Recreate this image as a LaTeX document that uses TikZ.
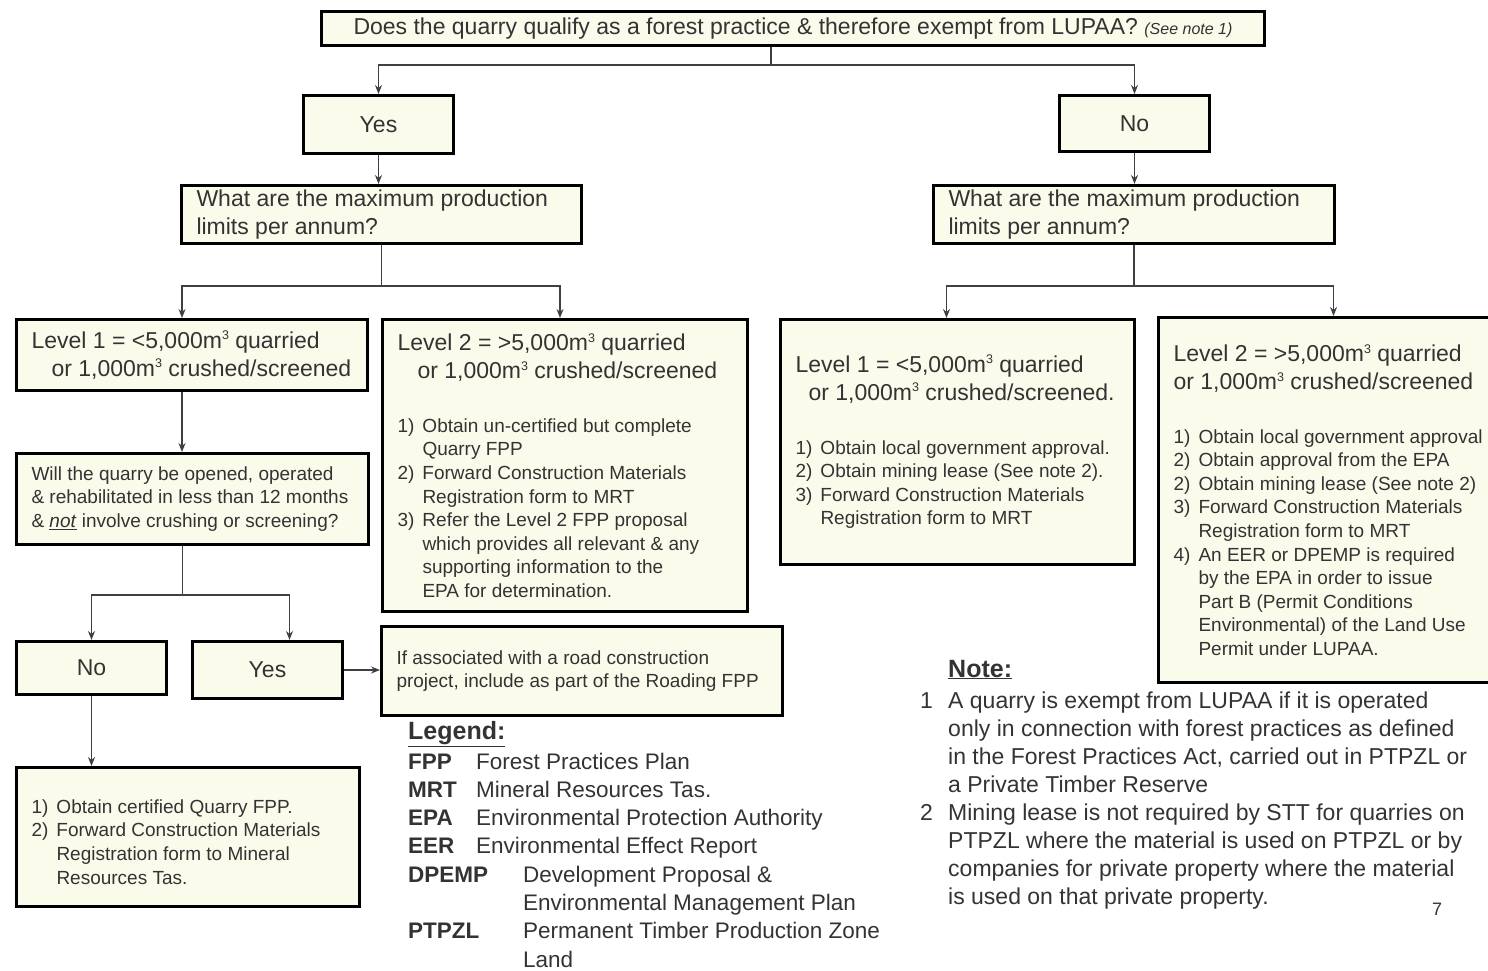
\documentclass[tikz,border=0pt]{standalone}
\usepackage{fontspec}
\setmainfont{Liberation Sans}
\usepackage{xcolor}
\usetikzlibrary{arrows.meta}
\definecolor{boxfill}{HTML}{FBFBEC}
\colorlet{ink}{black!80}
\newcommand\cube{\raisebox{8.5pt}{\fontsize{12.5}{12.5}\selectfont 3}}
\newcommand\qtxt{\fontsize{23}{28}\selectfont}
\newcommand\lvltxt{\fontsize{23}{28}\selectfont}
\newcommand\lsttxt{\fontsize{19}{23.6}\selectfont}
\newcommand\stepi[2]{\par\noindent\hangindent=25pt\hangafter=1\makebox[25pt][l]{#1}#2}
\newcommand\abbr[2]{\makebox[#1][l]{\textbf{#2}}}
\tikzstyle{box}=[draw=black,line width=3pt,fill=boxfill,text=ink,anchor=north west,inner ysep=0pt,inner xsep=15pt]
\tikzstyle{txt}=[text=ink,inner sep=0pt,anchor=base west]
\tikzstyle{ln}=[line width=1.3pt,draw=black!75]
\tikzstyle{arr}=[ln,-{Stealth[length=9pt,width=7pt]}]

\begin{document}
\begin{tikzpicture}[x=1pt,y=-1pt]
\useasboundingbox (0,0) rectangle (1488,970);
% first question and its answers
\node[box,minimum width=943pt,minimum height=34pt,font=\qtxt] (q) at (320,10)
  {Does the quarry qualify as a forest practice \& therefore exempt from LUPAA? {\fontsize{16}{16}\selectfont\itshape (See note 1)}};
\node[box,minimum width=150pt,minimum height=58pt,font=\qtxt] (yes) at (302,94) {Yes};
\node[box,minimum width=150pt,minimum height=56pt,font=\qtxt] (no) at (1058,94) {No};
\node[box,minimum height=58pt,text width=370pt,align=flush left,font=\qtxt] (ql) at (180,184)
  {What are the maximum production\\limits per annum?};
\node[box,minimum height=58pt,text width=371pt,align=flush left,font=\qtxt] (qr) at (932,184)
  {What are the maximum production\\limits per annum?};
% production levels
\node[box,minimum height=71pt,text width=321pt,align=flush left,font=\lvltxt] (l1a) at (15,318)
  {Level 1 = <5,000m\cube{} quarried\\\hspace*{20pt}or 1,000m\cube{} crushed/screened};
\node[box,minimum height=292pt,text width=335pt,align=flush left] (l2a) at (381,318)
  {{\lvltxt Level 2 = >5,000m\cube{} quarried\\\hspace*{20pt}or 1,000m\cube{} crushed/screened\par}
   \vspace{30pt}
   {\lsttxt\stepi{1)}{Obtain un-certified but complete\newline Quarry FPP}%
    \stepi{2)}{Forward Construction Materials\newline Registration form to MRT}%
    \stepi{3)}{Refer the Level 2 FPP proposal\newline which provides all relevant \& any\newline supporting information to the\newline EPA for determination.}\par}};
\node[box,minimum height=245pt,text width=324pt,align=flush left,inner xsep=15pt] (l1b) at (779,318)
  {{\lvltxt Level 1 = <5,000m\cube{} quarried\\\hspace*{13pt}or 1,000m\cube{} crushed/screened.\par}
   \vspace{30pt}
   {\lsttxt\stepi{1)}{Obtain local government approval.}%
    \stepi{2)}{Obtain mining lease (See note 2).}%
    \stepi{3)}{Forward Construction Materials\newline Registration form to MRT}\par}};
\node[box,minimum height=365pt,text width=320pt,align=flush left] (l2b) at (1157,316)
  {{\lvltxt Level 2 = >5,000m\cube{} quarried\\or 1,000m\cube{} crushed/screened\par}
   \vspace{30pt}
   {\lsttxt\stepi{1)}{Obtain local government approval}%
    \stepi{2)}{Obtain approval from the EPA}%
    \stepi{2)}{Obtain mining lease (See note 2)}%
    \stepi{3)}{Forward Construction Materials\newline Registration form to MRT}%
    \stepi{4)}{An EER or DPEMP is required\newline by the EPA in order to issue\newline Part B (Permit Conditions\newline Environmental) of the Land Use\newline Permit under LUPAA.}\par}};
% short term quarry
\node[box,minimum height=91pt,text width=322pt,align=flush left,font=\lsttxt] (will) at (15,452)
  {Will the quarry be opened, operated\\\& rehabilitated in less than 12 months\\\& \underline{\textit{not}} involve crushing or screening?};
\node[box,minimum width=150pt,minimum height=53pt,font=\qtxt] (no2) at (15,640) {No};
\node[box,minimum width=150pt,minimum height=57pt,font=\qtxt] (yes2) at (191,640) {Yes};
\node[box,minimum height=89pt,text width=371pt,align=flush left,font=\lsttxt] (road) at (380,625)
  {If associated with a road construction\\project, include as part of the Roading FPP};
\node[box,minimum height=139pt,text width=313pt,align=flush left] (cert) at (15,766)
  {{\lsttxt\stepi{1)}{Obtain certified Quarry FPP.}%
    \stepi{2)}{Forward Construction Materials\newline Registration form to Mineral\newline Resources Tas.}\par}};
% legend and notes
\node[txt,font=\fontsize{25}{28}\selectfont\bfseries] (leg) at (408,739) {\underline{Legend:}};
\node[txt,text width=500pt,align=flush left,font=\fontsize{22.5}{28.3}\selectfont] (legtab) at (408,769)
  {\abbr{68pt}{FPP}Forest Practices Plan\\
   \abbr{68pt}{MRT}Mineral Resources Tas.\\
   \abbr{68pt}{EPA}Environmental Protection Authority\\
   \abbr{68pt}{EER}Environmental Effect Report\\
   \abbr{115pt}{DPEMP}Development Proposal \&\\
   \hspace*{115pt}Environmental Management Plan\\
   \abbr{115pt}{PTPZL}Permanent Timber Production Zone\\
   \hspace*{115pt}Land};
\node[txt,font=\fontsize{25}{28}\selectfont\bfseries] (notehd) at (948,677) {\underline{Note:}};
\node[txt,text width=560pt,align=flush left,font=\fontsize{23}{28}\selectfont] (notes) at (920,708)
  {\makebox[28pt][l]{1}A quarry is exempt from LUPAA if it is operated\\
   \hspace*{28pt}only in connection with forest practices as defined\\
   \hspace*{28pt}in the Forest Practices Act, carried out in PTPZL or\\
   \hspace*{28pt}a Private Timber Reserve\\
   \makebox[28pt][l]{2}Mining lease is not required by STT for quarries on\\
   \hspace*{28pt}PTPZL where the material is used on PTPZL or by\\
   \hspace*{28pt}companies for private property where the material\\
   \hspace*{28pt}is used on that private property.};
\node[txt,font=\fontsize{18}{20}\selectfont] (pg) at (1432,915) {7};
% connectors
\draw[arr] ([xshift=-22pt]q.south) -- ++(0,18) -| (yes);
\draw[arr] ([xshift=-22pt]q.south) -- ++(0,18) -| (no);
\draw[arr] (yes.south) -- (yes.south |- ql.north);
\draw[arr] (no.south) -- (no.south |- qr.north);
\draw[arr] (ql.south) -- ++(0,41) -| ([xshift=-10pt]l1a.north);
\draw[arr] (ql.south) -- ++(0,41) -| ([xshift=-5pt]l2a.north);
\draw[arr] (qr.south) -- ++(0,41) -| ([xshift=-11pt]l1b.north);
\draw[arr] (qr.south) -- ++(0,41) -| (l2b);
\draw[arr] ([xshift=-10pt]l1a.south) -- ([xshift=-10pt]l1a.south |- will.north);
\draw[arr] ([xshift=-10pt]will.south) -- ++(0,49) -| (no2);
\draw[arr] ([xshift=-10pt]will.south) -- ++(0,49) -| ([xshift=22pt]yes2.north);
\draw[arr] (yes2.east) -- (yes2.east -| road.west);
\draw[arr] (no2.south) -- (no2.south |- cert.north);
\end{tikzpicture}
\end{document}
